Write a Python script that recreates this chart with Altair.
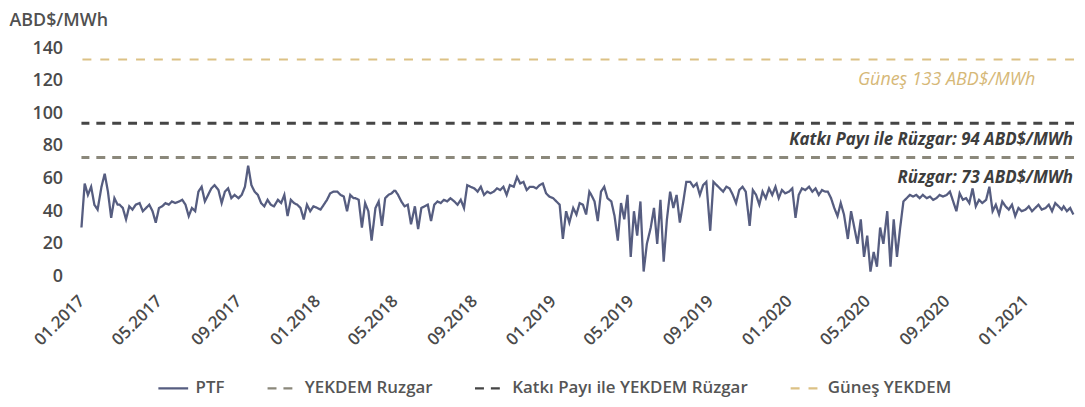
import altair as alt
import pandas as pd

# ---- data (USD/MWh), 6 samples per month (days 1,6,11,16,21,26)
days = [1, 6, 11, 16, 21, 26]

ptf_2017 = [30, 57, 50, 55, 44, 41,  55, 63, 52, 36, 48, 44,  44, 42, 35, 43, 41, 44,
            45, 40, 42, 44, 40, 33,  42, 43, 45, 44, 46, 45,  46, 47, 44, 37, 42, 40,
            52, 55, 46, 50, 54, 56,  53, 45, 52, 54, 48, 50,  48, 50, 55, 68, 56, 52,
            50, 45, 43, 47, 44, 43,  47, 45, 50, 37, 47, 45,  44, 42, 35, 44, 40, 43]
ptf_2018 = [42, 41, 44, 47, 51, 52,  52, 50, 49, 40, 50, 48,  48, 47, 30, 45, 40, 22,
            42, 46, 31, 48, 50, 51,  53, 50, 46, 43, 44, 32,  43, 29, 42, 43, 44, 34,
            44, 46, 45, 47, 46, 48,  46, 44, 47, 42, 56, 55,  54, 52, 55, 50, 52, 51,
            52, 54, 53, 55, 50, 56,  55, 61, 57, 58, 53, 55,  55, 54, 56, 57, 51, 49]
ptf_2019 = [48, 46, 44, 23, 40, 33,  42, 38, 45, 44, 38, 52,  50, 46, 34, 52, 55, 48,
            46, 37, 22, 45, 35, 50,  12, 40, 25, 46, 3, 20,   30, 42, 20, 47, 9, 35,
            52, 42, 50, 33, 45, 58,  58, 55, 57, 50, 56, 58,  28, 58, 56, 54, 52, 55,
            54, 50, 45, 53, 55, 52,  31, 53, 50, 44, 52, 48,  54, 50, 55, 48, 53, 51]
ptf_2020 = [52, 54, 36, 50, 54, 53,  55, 52, 54, 50, 53, 52,  52, 48, 42, 37, 45, 38,
            23, 40, 30, 20, 35, 12,  25, 3, 15, 6, 30, 20,    40, 6, 35, 12, 30, 46,
            48, 50, 49, 50, 48, 50,  48, 49, 47, 48, 50, 49,  50, 52, 46, 40, 51, 47,
            48, 45, 54, 43, 47, 45,  47, 55, 40, 44, 38, 46,  43, 41, 44, 37, 42, 40]
ptf_2021 = [41, 43, 40, 42, 44, 41,  42, 44, 40, 45, 43, 41,  43, 40, 42, 38]

yekdem_names = ["YEKDEM Ruzgar", "Katkı Payı ile YEKDEM Rüzgar", "Güneş YEKDEM"]
yekdem_values = [73, 94, 133]
yekdem_widths = [3, 3, 2]

ann_labels = ["Rüzgar: 73 ABD$/MWh", "Katkı Payı ile Rüzgar: 94 ABD$/MWh", "Güneş   133 ABD$/MWh"]

series_order = ["PTF"] + yekdem_names
series_colors = ["#565d80", "#8b887b", "#454545", "#dcc185"]
series_dash = [[1, 0], [9, 7], [9, 7], [9, 9]]

y_ticks = [0, 20, 40, 60, 80, 100, 120, 140]
tick_dates = [alt.DateTime(year=y, month=m, date=1)
              for y in range(2017, 2022) for m in (1, 5, 9)
              if (y, m) <= (2021, 1)]

# ---- tables
rows = []
for year, vals in [(2017, ptf_2017), (2018, ptf_2018), (2019, ptf_2019),
                   (2020, ptf_2020), (2021, ptf_2021)]:
    for i, v in enumerate(vals):
        m = i // 6 + 1
        d = days[i % 6]
        rows.append({"date": f"{year}-{m:02d}-{d:02d}T00:00:00", "value": v, "series": "PTF"})
ptf_df = pd.DataFrame(rows)

rules_df = pd.DataFrame({"series": yekdem_names, "value": yekdem_values, "w": yekdem_widths})

end_date = "2021-03-17T00:00:00"
ann_df = pd.DataFrame({"date": [end_date] * 3, "value": yekdem_values, "label": ann_labels})

FONT = "Open Sans"

x_scale = alt.Scale(domain=[alt.DateTime(year=2017, month=1, date=1),
                            alt.DateTime(year=2021, month=3, date=17)])
y_scale = alt.Scale(domain=[0, 140], nice=False)

color_enc = alt.Color("series:N", title=None,
                      scale=alt.Scale(domain=series_order, range=series_colors),
                      legend=alt.Legend(orient="none", legendX=76, legendY=326,
                                        direction="horizontal", symbolType="stroke",
                                        symbolSize=900, symbolStrokeWidth=2.5,
                                        labelFont=FONT, labelFontSize=17,
                                        labelFontWeight=600, labelColor="#555555",
                                        labelLimit=400,
                                        columnPadding=37, labelOffset=6))
dash_enc = alt.StrokeDash("series:N", title=None,
                          scale=alt.Scale(domain=series_order, range=series_dash))

x_axis = alt.Axis(title=None, values=tick_dates, format="%m.%Y",
                  labelAngle=-45, labelAlign="right", labelBaseline="middle",
                  labelPadding=22, ticks=False, domain=False, grid=False,
                  labelFont=FONT, labelFontSize=17, labelFontWeight=600,
                  labelColor="#4a4a4a", labelOverlap=False)
y_axis = alt.Axis(title="ABD$/MWh", values=y_ticks,
                  titleAngle=0, titleAlign="left", titleBaseline="middle",
                  titleX=-73, titleY=-28, titleFont=FONT, titleFontSize=18,
                  titleFontWeight=600, titleColor="#505050",
                  labelPadding=19, ticks=False, domain=False, grid=False,
                  labelFont=FONT, labelFontSize=18, labelFontWeight=600,
                  labelColor="#4a4a4a", labelOverlap=False)

x_enc = alt.X("date:T", scale=x_scale, axis=x_axis)
y_enc = alt.Y("value:Q", scale=y_scale, axis=y_axis)

line = alt.Chart(ptf_df).mark_line(strokeWidth=2.3, interpolate="linear").encode(
    x=x_enc, y=y_enc, color=color_enc, strokeDash=dash_enc)

rules = alt.Chart(rules_df).mark_rule().encode(
    y=y_enc,
    color=color_enc, strokeDash=dash_enc,
    strokeWidth=alt.StrokeWidth("w:Q", scale=None))

t_ruz = alt.Chart(ann_df.iloc[[0]]).mark_text(
    align="right", baseline="middle", dx=-1, dy=21, font=FONT, fontSize=17,
    fontStyle="italic", fontWeight="bold", color="#3d3d3d").encode(
    x=x_enc, y=y_enc, text="label:N")
t_kat = alt.Chart(ann_df.iloc[[1]]).mark_text(
    align="right", baseline="middle", dx=-1, dy=17, font=FONT, fontSize=17,
    fontStyle="italic", fontWeight="bold", color="#3d3d3d").encode(
    x=x_enc, y=y_enc, text="label:N")
t_gun = alt.Chart(ann_df.iloc[[2]]).mark_text(
    align="right", baseline="middle", dx=-39, dy=21, font=FONT, fontSize=18,
    fontStyle="italic", fontWeight="normal", color="#d6b877").encode(
    x=x_enc, y=y_enc, text="label:N")

chart = alt.layer(line, rules, t_ruz, t_kat, t_gun).properties(
    width=1000, height=230,
    background="white",
    autosize=alt.AutoSizeParams(type="none"),
    padding={"left": 74, "top": 39, "right": 3, "bottom": 122},
).configure_view(stroke=None)

chart.save("out.html", embed_options={"renderer": "svg", "actions": False})
